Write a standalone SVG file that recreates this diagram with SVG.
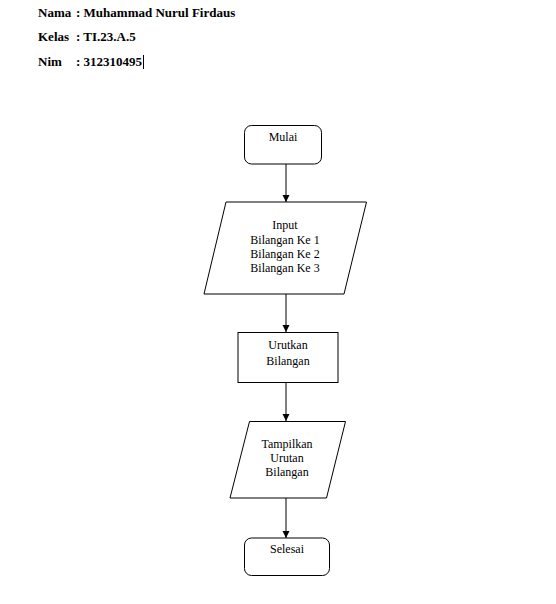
<svg xmlns="http://www.w3.org/2000/svg" width="556" height="604" viewBox="0 0 556 604">
<style>
.hd{font-family:"Liberation Serif",serif;font-size:13px;font-weight:bold;fill:#000}
.t{font-family:"Liberation Serif",serif;font-size:12px;fill:#000;text-anchor:middle}
.s{fill:#fff;stroke:#000;stroke-width:1}
.c{stroke:#000;stroke-width:1;fill:none}
</style>
<defs>
<marker id="ah" markerWidth="8" markerHeight="8" refX="7" refY="4" orient="auto" markerUnits="userSpaceOnUse">
<path d="M0,0.5 L7,4 L0,7.5 Z" fill="#000"/>
</marker>
</defs>
<rect width="556" height="604" fill="#fff"/>
<g id="header">
<text class="hd" x="38" y="17">Nama</text><text class="hd" x="76" y="17">: Muhammad Nurul Firdaus</text>
<text class="hd" x="38" y="41">Kelas</text><text class="hd" x="76" y="41">: TI.23.A.5</text>
<text class="hd" x="38" y="66">Nim</text><text class="hd" x="76" y="66">: 312310495</text>
<line x1="143.5" y1="55" x2="143.5" y2="69" stroke="#000" stroke-width="1"/>
</g>
<g id="connectors">
<line class="c" x1="286" y1="164" x2="286" y2="202" marker-end="url(#ah)"/>
<line class="c" x1="286" y1="294" x2="286" y2="332" marker-end="url(#ah)"/>
<line class="c" x1="286" y1="383" x2="286" y2="421" marker-end="url(#ah)"/>
<line class="c" x1="286" y1="498" x2="286" y2="538" marker-end="url(#ah)"/>
</g>
<g id="mulai">
<rect class="s" x="244.5" y="125.5" width="77" height="38.5" rx="7"/>
<text class="t" x="283" y="141">Mulai</text>
</g>
<g id="input">
<polygon class="s" points="226,202 366.5,202 344,294 204,294"/>
<text class="t" x="285" y="229">Input</text>
<text class="t" x="285" y="244">Bilangan Ke 1</text>
<text class="t" x="285" y="258">Bilangan Ke 2</text>
<text class="t" x="285" y="272">Bilangan Ke 3</text>
</g>
<g id="urutkan">
<rect class="s" x="238" y="332.5" width="100" height="50"/>
<text class="t" x="288" y="349">Urutkan</text>
<text class="t" x="288" y="365">Bilangan</text>
</g>
<g id="tampilkan">
<polygon class="s" points="249.5,421.5 345.5,421.5 326.5,498 230,498"/>
<text class="t" x="287" y="448">Tampilkan</text>
<text class="t" x="287" y="462">Urutan</text>
<text class="t" x="287" y="476">Bilangan</text>
</g>
<g id="selesai">
<rect class="s" x="244.5" y="538" width="85" height="37.5" rx="7"/>
<text class="t" x="287" y="553">Selesai</text>
</g>
</svg>
